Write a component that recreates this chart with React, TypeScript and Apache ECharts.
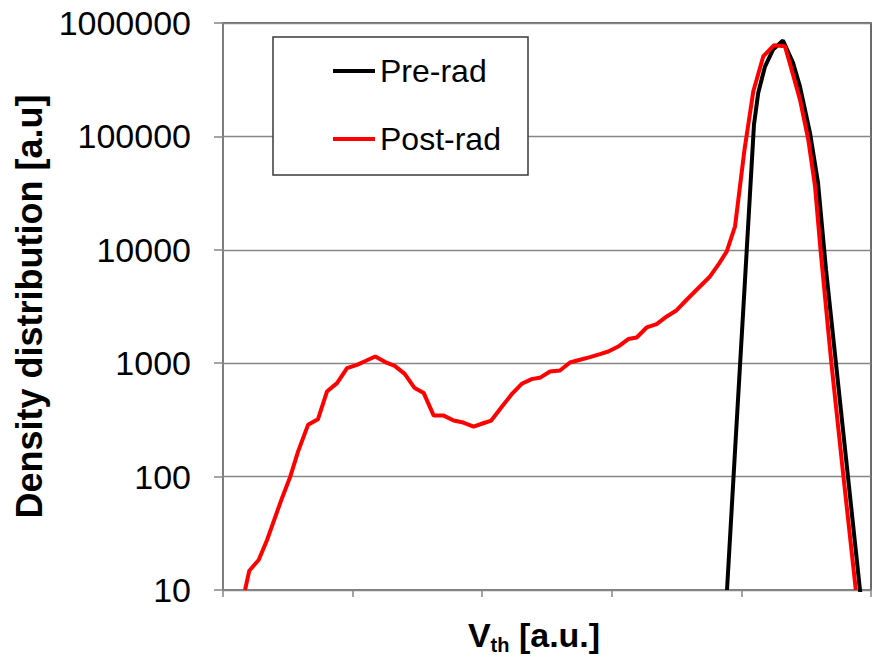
import React, { useEffect, useRef } from "react";
import * as echarts from "echarts";

// Pre-rad curve (x in a.u., y density)
const preRadX = [3.889, 3.958, 4.028, 4.097, 4.13, 4.182, 4.244, 4.321, 4.398, 4.452, 4.529, 4.591, 4.653, 4.73, 4.807, 4.884, 4.961];
const preRadY = [10, 233, 5450, 127000, 243000, 413000, 583000, 701000, 448000, 275000, 108000, 39100, 6670, 990, 146, 21.6, 3.2];

// Post-rad curve
const postRadX = [
  0.17, 0.203, 0.275, 0.34, 0.404, 0.455, 0.519, 0.579, 0.656, 0.733, 0.802, 0.88, 0.957, 1.034, 1.103, 1.175,
  1.252, 1.325, 1.402, 1.479, 1.549, 1.626, 1.703, 1.78, 1.844, 1.934, 2.002, 2.07, 2.153, 2.23, 2.305, 2.382,
  2.451, 2.523, 2.6, 2.677, 2.755, 2.832, 2.909, 2.973, 3.05, 3.127, 3.192, 3.269, 3.346, 3.424, 3.495, 3.578,
  3.655, 3.758, 3.822, 3.887, 3.951, 4.024, 4.092, 4.169, 4.252, 4.336, 4.38, 4.452, 4.516, 4.568, 4.611, 4.694,
  4.787, 4.883,
];
const postRadY = [
  10, 14.8, 18.4, 27.6, 44.4, 64.5, 100, 166, 286, 321, 562, 667, 905, 968, 1050, 1146,
  1023, 948, 806, 603, 545, 345, 345, 312, 302, 276, 294, 312, 415, 537, 658, 724,
  749, 845, 863, 1014, 1072, 1132, 1203, 1268, 1403, 1632, 1686, 2066, 2213, 2583, 2899, 3627,
  4444, 5820, 7390, 9680, 16100, 76500, 250000, 509000, 637000, 624000, 416000, 211000, 93700, 36300, 9820, 1008,
  101, 10,
];

const yTickValues = [10, 100, 1000, 10000, 100000, 1000000];
const seriesNames = ["Pre-rad", "Post-rad"];

const FONT = "'Liberation Sans', Arial, sans-serif";

function zip(xs: number[], ys: number[]) {
  return xs.map((x, i) => [x, ys[i]]);
}

export default function App() {
  const ref = useRef<HTMLDivElement>(null);

  useEffect(() => {
    if (!ref.current) return;
    const chart = echarts.init(ref.current, undefined, { renderer: "svg" });
    chart.setOption({
      animation: false,
      backgroundColor: "#ffffff",
      grid: {
        left: 223,
        top: 23,
        width: 648,
        height: 567,
        show: true,
        borderColor: "#3a3a3a",
        borderWidth: 1.5,
        backgroundColor: "transparent",
        outerBoundsMode: "none",
      },
      legend: {
        orient: "vertical",
        left: 333,
        top: 51,
        padding: 0,
        itemWidth: 42,
        itemHeight: 4,
        itemGap: 28,
        icon: "rect",
        data: seriesNames,
        textStyle: { fontFamily: FONT, fontSize: 32, lineHeight: 40, color: "#000" },
        z: 5,
      },
      graphic: [
        {
          type: "rect",
          z: 3,
          shape: { x: 273, y: 37, width: 255, height: 138 },
          style: { fill: "#ffffff", stroke: "#3a3a3a", lineWidth: 1.5 },
        },
      ],
      xAxis: {
        type: "value",
        min: 0,
        max: 5,
        interval: 1,
        name: "{a|V}{b|th}{a| [a.u.]}",
        nameLocation: "middle",
        nameGap: 25,
        nameTextStyle: {
          padding: [0, 26, 0, 0],
          rich: {
            a: { fontFamily: FONT, fontSize: 34, fontWeight: "bold", color: "#000", lineHeight: 40 },
            b: { fontFamily: FONT, fontSize: 20, fontWeight: "bold", color: "#000", lineHeight: 14, verticalAlign: "bottom" },
          },
        },
        axisLine: { show: true, lineStyle: { color: "#868686", width: 1.5 } },
        axisTick: { show: true, inside: false, length: 7, lineStyle: { color: "#868686", width: 1.5 } },
        axisLabel: { show: false },
        splitLine: { show: false },
      },
      yAxis: {
        type: "log",
        logBase: 10,
        min: 10,
        max: 1000000,
        name: "Density distribution [a.u]",
        nameLocation: "middle",
        nameGap: 168,
        nameTextStyle: { fontFamily: FONT, fontSize: 36, fontWeight: "bold", color: "#000" },
        axisLine: { show: true, lineStyle: { color: "#868686", width: 1.5 } },
        axisTick: { show: true, inside: false, length: 9, lineStyle: { color: "#868686", width: 1.5 } },
        axisLabel: {
          fontFamily: FONT,
          fontSize: 34,
          color: "#000",
          margin: 32,
          formatter: (v: number) => {
            const r = Math.round(v);
            const t = yTickValues.find((k) => Math.abs(k - r) / k < 0.01);
            return String(t ?? r);
          },
        },
        splitLine: { show: true, lineStyle: { color: "#868686", width: 1.3 } },
      },
      series: [
        {
          name: seriesNames[0],
          type: "line",
          data: zip(preRadX, preRadY),
          showSymbol: false,
          symbol: "none",
          clip: true,
          color: "#000000",
          itemStyle: { color: "#000000" },
          lineStyle: { color: "#000000", width: 4 },
          z: 2,
        },
        {
          name: seriesNames[1],
          type: "line",
          data: zip(postRadX, postRadY),
          showSymbol: false,
          symbol: "none",
          clip: true,
          color: "#ff0000",
          itemStyle: { color: "#ff0000" },
          lineStyle: { color: "#ff0000", width: 4 },
          z: 2,
        },
      ],
    });
    return () => chart.dispose();
  }, []);

  return (
    <div
      ref={ref}
      style={{ position: "absolute", left: 0, top: 0, width: 873, height: 657, background: "#fff" }}
    />
  );
}
